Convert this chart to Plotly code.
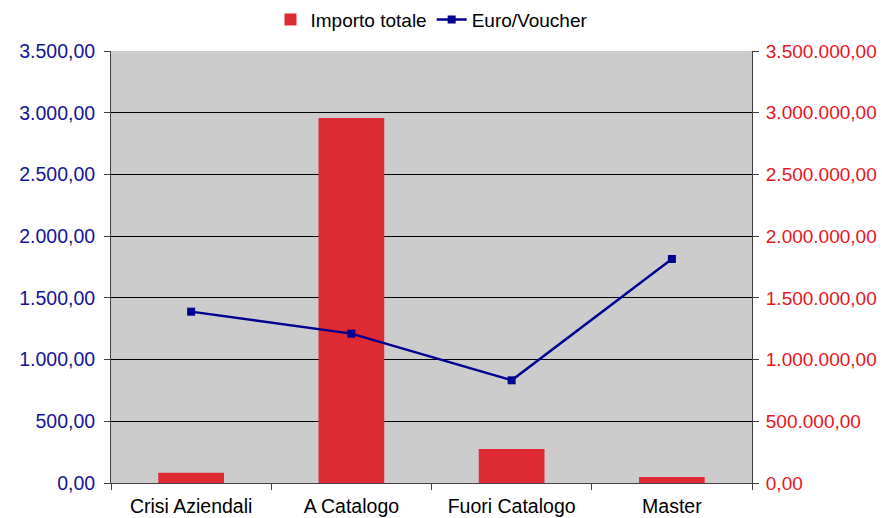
import plotly.graph_objects as go

categorie = ['Crisi Aziendali', 'A Catalogo', 'Fuori Catalogo', 'Master']
importo_totale = [83000, 2957000, 275000, 49000]
euro_voucher = [1388, 1210, 832, 1815]

font = 'Liberation Sans, Arial, sans-serif'

bars = go.Bar(x=categorie, y=importo_totale, name='Importo totale',
              marker=dict(color='#DE2A32', line=dict(width=0)),
              width=0.41, yaxis='y')
line = go.Scatter(x=categorie, y=euro_voucher, name='Euro/Voucher',
                  mode='lines+markers', yaxis='y2',
                  line=dict(color='#000090', width=2.4),
                  marker=dict(symbol='square', size=8, color='#000090'))

layout = go.Layout(
    width=882, height=518,
    margin=dict(l=111, r=130, t=51, b=35),
    paper_bgcolor='white', plot_bgcolor='#CCCCCC',
    separators=',.',
    font=dict(family=font, size=19.5, color='black'),
    showlegend=True,
    legend=dict(orientation='h', x=0.5, xanchor='center', yref='container',
                y=0.962, yanchor='middle', itemwidth=30,
                font=dict(size=19), bgcolor='rgba(0,0,0,0)'),
    xaxis=dict(tickson='boundaries', ticks='outside', ticklen=6, tickcolor='#404040',
               showline=True, linecolor='#404040', linewidth=1, showgrid=False,
               automargin=False, tickfont=dict(size=19.5, color='black'),
               ticklabelstandoff=6),
    yaxis=dict(side='right', range=[0, 3500000], dtick=500000, tickformat=',.2f',
               ticks='outside', ticklen=6, tickcolor='#404040',
               showline=True, linecolor='#404040', linewidth=1, automargin=False,
               showgrid=True, gridcolor='black', gridwidth=1, zeroline=False,
               ticklabelstandoff=3,
               tickfont=dict(size=19, color='#E8141C')),
    yaxis2=dict(side='left', overlaying='y', range=[0, 3500], dtick=500, tickformat=',.2f',
                ticks='outside', ticklen=6, tickcolor='#404040',
                showline=True, linecolor='#404040', linewidth=1, automargin=False,
                showgrid=False, zeroline=False, ticklabelstandoff=5,
                tickfont=dict(size=19.5, color='#14149A')),
)

fig = go.Figure([bars, line], layout)
# la pagina ha un margine di 8px di default: lo tolgo
fig.write_html('out.html', config={'displayModeBar': False},
               post_script="document.body.style.margin='0';document.body.style.overflow='hidden';")
